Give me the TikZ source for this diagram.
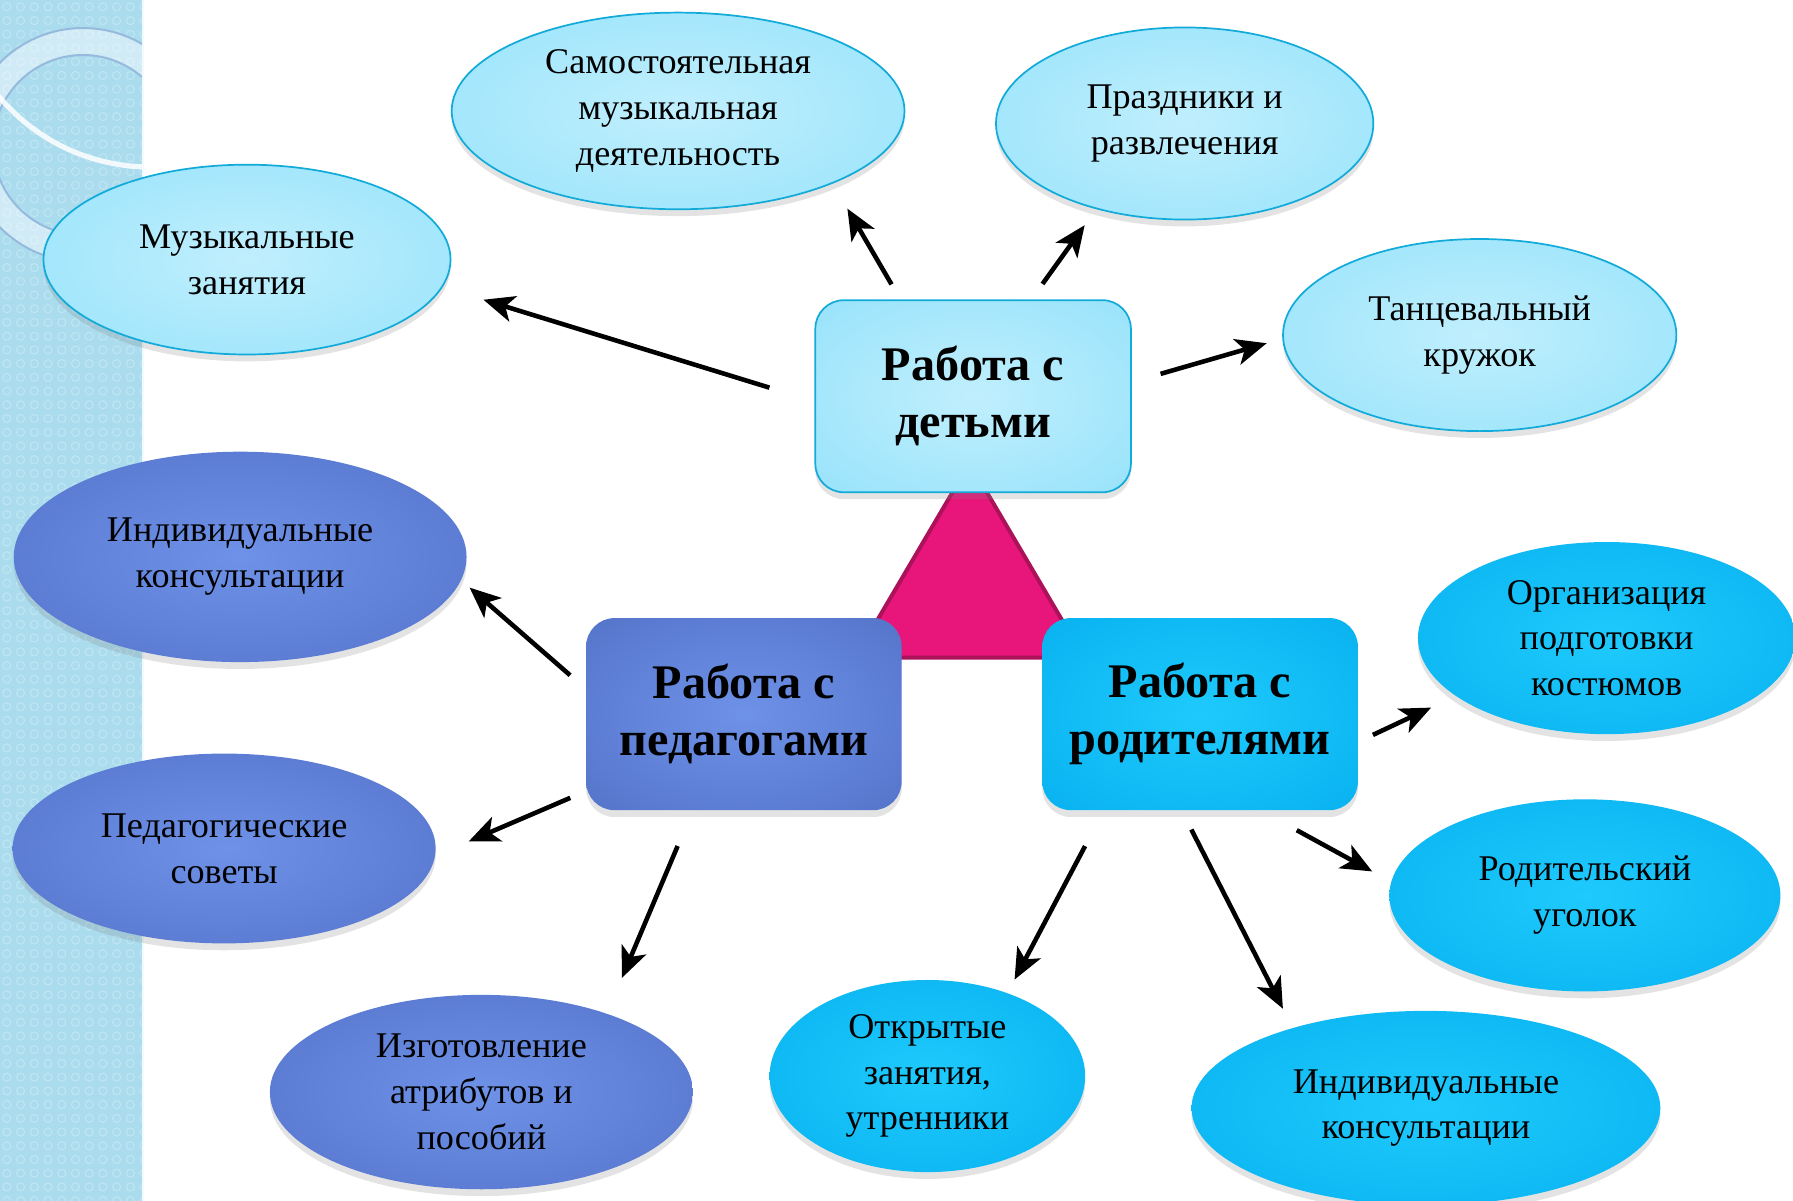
\documentclass[tikz,border=0pt]{standalone}
\usepackage{fontspec}
\setmainfont{Liberation Serif}
\usetikzlibrary{arrows.meta, shapes.geometric, shadows}

\definecolor{kidsin}{RGB}{192,239,253}
\definecolor{kidsout}{RGB}{136,222,250}
\definecolor{kidsline}{RGB}{18,170,216}
\definecolor{pedin}{RGB}{110,146,232}
\definecolor{pedout}{RGB}{74,104,190}
\definecolor{parin}{RGB}{30,202,253}
\definecolor{parout}{RGB}{0,168,234}
\definecolor{tri}{RGB}{232,22,122}
\definecolor{triline}{RGB}{172,18,90}
\definecolor{strip}{RGB}{170,220,238}
\definecolor{ringline}{RGB}{150,186,222}

\pgfdeclareradialshading{kidsglow}{\pgfpoint{0bp}{0bp}}{color(0bp)=(kidsin); color(50bp)=(kidsout); color(75bp)=(kidsout)}
\pgfdeclareradialshading{pedglow}{\pgfpoint{0bp}{0bp}}{color(0bp)=(pedin); color(50bp)=(pedout); color(75bp)=(pedout)}
\pgfdeclareradialshading{parglow}{\pgfpoint{0bp}{0bp}}{color(0bp)=(parin); color(50bp)=(parout); color(75bp)=(parout)}

\tikzset{
x=0.2mm, y=-0.2mm, % one unit is one pixel of the sketch, y runs downwards
>={Stealth[length=5.4mm, width=4.6mm, inset=1.4mm]}, % big barbed arrow heads
link/.style={->, line width=0.8mm}, % the black arrows
bubble/.style={ellipse, inner sep=0pt, outer sep=0pt, minimum height=33.6mm, align=center,
  font=\fontsize{18}{22.8}\selectfont,
  drop shadow={opacity=0.22, shadow xshift=0pt, shadow yshift=-1.2mm}},
box/.style={rectangle, rounded corners=5mm, inner sep=0pt, outer sep=0pt,
  minimum width=55.2mm, minimum height=33.6mm, align=center,
  font=\bfseries\fontsize{24}{28.5}\selectfont,
  drop shadow={opacity=0.22, shadow xshift=0pt, shadow yshift=-1.2mm}},
kids/.style={shading=kidsglow, draw=kidsline, line width=0.3mm}, % work with children
ped/.style={shading=pedglow}, % work with teachers
par/.style={shading=parglow}, % work with parents
}

\begin{document}
\begin{tikzpicture}
    \useasboundingbox (0,0) rectangle (1568,1050);

    % left strip
    \fill[strip] (0,0) rectangle (125,1050);
    \begin{scope}
        \clip (0,0) rectangle (125,1050);
        \foreach \i in {0,...,10}
            \foreach \j in {0,...,87}
                \draw[white, opacity=0.25, line width=0.2mm] (\i*12+6,\j*12+6) circle (3.5);
        \draw[white, opacity=0.45, line width=4.7mm] (72.6,126.8) circle (90.5);
        \draw[ringline, line width=0.35mm] (72.6,126.8) circle (78.7);
        \draw[ringline, line width=0.35mm] (72.6,126.8) circle (102.3);
        \draw[white, opacity=0.85, line width=0.9mm] (131,-26) circle (172);
    \end{scope}
    \draw[white!85!strip, line width=0.3mm] (125,0) -- (125,1050);

    % triangle behind the boxes
    \draw[fill=tri, draw=triline, line width=0.7mm, line join=round]
        (848,405) -- (748,575) -- (948,575) -- cycle;

    % the three boxes
    \node[box, kids] (kids) at (851,346.5) {Работа с\\детьми};
    \node[box, ped] (ped) at (650.5,624.5) {Работа с\\педагогами};
    \node[box, par] (par) at (1049.5,624.5) {Работа с\\родителями};

    % work with children
    \node[bubble, kids, minimum width=71.2mm, minimum height=33.2mm] (lessons) at (216,227) {Музыкальные\\занятия};
    \node[bubble, kids, minimum width=79.2mm, minimum height=34.4mm] (selfmusic) at (593,97) {Самостоятельная\\музыкальная\\деятельность};
    \node[bubble, kids, minimum width=66mm] (holidays) at (1036,108) {Праздники и\\развлечения};
    \node[bubble, kids, minimum width=68.8mm] (dance) at (1294,293) {Танцевальный\\кружок};

    % work with teachers
    \node[bubble, ped, minimum width=79.2mm, minimum height=36.8mm] (pedconsult) at (210,487) {Индивидуальные\\консультации};
    \node[bubble, ped, minimum width=74mm, minimum height=33.2mm] (councils) at (196,742) {Педагогические\\советы};
    \node[bubble, ped, minimum width=74mm, minimum height=34mm] (making) at (421,955) {Изготовление\\атрибутов и\\пособий};

    % work with parents
    \node[bubble, par, minimum width=55.2mm] (openclass) at (811,941) {Открытые\\занятия,\\утренники};
    \node[bubble, par, minimum width=82mm, minimum height=34mm] (parconsult) at (1247,969) {Индивидуальные\\консультации};
    \node[bubble, par, minimum width=66mm] (costumes) at (1405,558) {Организация\\подготовки\\костюмов};
    \node[bubble, par, minimum width=68.4mm] (corner) at (1386,783) {Родительский\\уголок};

    \path[link] (kids.182.9) edge[shorten <=8.4mm, shorten >=7.6mm] (lessons.-8.3)
                (kids.127.5) edge[shorten <=3.2mm, shorten >=5.2mm] (selfmusic.-25.4)
                (kids.59.6) edge[shorten <=3.5mm, shorten >=3.6mm] (holidays.224.4)
                (kids.5.1) edge[shorten <=5.4mm, shorten >=3mm] (dance.181.7)
                (ped.171.9) edge[shorten <=3.7mm, shorten >=2mm] (pedconsult.-6.4)
                (ped.206.7) edge[shorten <=3mm, shorten >=6.4mm] (councils.-2.3)
                (ped.242.3) edge[shorten <=6.8mm, shorten >=6.8mm] (making.32.7)
                (par.225.3) edge[shorten <=7.1mm, shorten >=2.7mm] (openclass.46.9)
                (par.259.8) edge[shorten <=3.8mm, shorten >=3.8mm] (parconsult.149)
                (par.302.8) edge[shorten <=7.3mm, shorten >=3.8mm] (corner.176.4)
                (par.-10.9) edge[shorten <=2.9mm, shorten >=4.8mm] (costumes.201.6);
\end{tikzpicture}
\end{document}
